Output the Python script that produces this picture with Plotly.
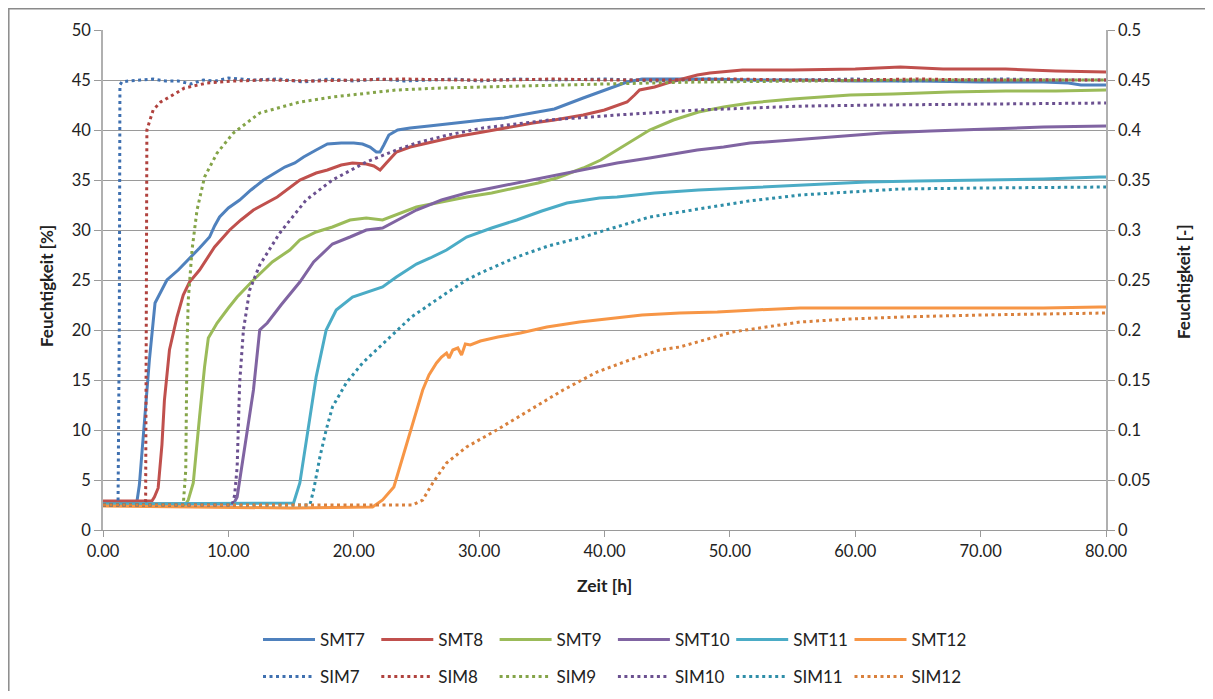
import plotly.graph_objects as go

# ---------------- data ----------------
SMT7_t = [0, 2.7, 2.9, 3.3, 3.7, 4.15, 5.1, 6.0, 6.8, 7.7, 8.5, 8.9, 9.3, 10.0, 10.9, 11.8, 12.8, 13.7, 14.5,
          15.3, 16.0, 17.0, 17.9, 19.0, 20.0, 20.7, 21.3, 21.8, 22.1, 22.4, 22.8, 23.5, 24.5, 26.0, 28.0, 30.3,
          32.0, 34.3, 36.0, 38.3, 40.0, 41.8, 43.0, 45.0, 48.0, 52.0, 56.0, 60.0, 65.0, 70.0, 75.0, 77.0, 78.0, 80.0]
SMT7_v = [2.8, 2.8, 4.5, 10.5, 17.0, 22.7, 25.0, 26.0, 27.0, 28.2, 29.3, 30.4, 31.3, 32.2, 33.0, 34.0, 35.0, 35.7,
          36.3, 36.7, 37.3, 38.0, 38.6, 38.7, 38.7, 38.6, 38.3, 37.8, 37.8, 38.5, 39.5, 40.0, 40.2, 40.4, 40.7, 41.0,
          41.2, 41.7, 42.1, 43.2, 44.0, 44.8, 45.1, 45.1, 45.1, 45.0, 45.0, 44.9, 44.9, 44.8, 44.8, 44.7, 44.5, 44.5]

SMT8_t = [0, 3.9, 4.1, 4.4, 4.7, 4.9, 5.3, 5.9, 6.4, 6.9, 7.7, 8.9, 10.1, 11.0, 12.0, 13.9, 15.7, 17.0, 17.9,
          19.0, 19.9, 21.0, 21.6, 22.1, 22.6, 23.4, 24.5, 26.3, 28.0, 30.3, 32.0, 34.3, 36.0, 38.3, 40.0, 41.8,
          42.4, 42.8, 44.0, 45.0, 47.4, 48.4, 51.0, 55.0, 60.0, 63.6, 67.0, 72.0, 76.0, 80.0]
SMT8_v = [2.9, 2.9, 3.3, 4.2, 8.5, 13.0, 18.0, 21.3, 23.5, 24.8, 26.0, 28.3, 30.0, 31.0, 32.0, 33.3, 35.0, 35.7,
          36.0, 36.5, 36.7, 36.6, 36.4, 36.0, 36.7, 37.8, 38.3, 38.8, 39.3, 39.8, 40.2, 40.7, 41.0, 41.5, 42.0,
          42.8, 43.5, 44.0, 44.3, 44.7, 45.5, 45.7, 46.0, 46.0, 46.1, 46.3, 46.1, 46.1, 45.9, 45.8]

SMT9_t = [0, 6.6, 6.8, 7.2, 7.7, 8.1, 8.4, 9.1, 10.0, 10.7, 12.0, 13.5, 14.9, 15.7, 17.0, 18.3, 19.7, 21.0,
          22.3, 23.5, 25.0, 27.0, 29.0, 31.0, 33.0, 34.7, 36.2, 38.3, 39.7, 41.0, 42.3, 43.6, 45.5, 47.5, 49.5,
          51.6, 55.0, 59.6, 63.0, 67.5, 72.0, 76.0, 80.0]
SMT9_v = [2.6, 2.6, 3.0, 4.7, 11.3, 16.3, 19.2, 20.7, 22.2, 23.3, 25.0, 26.8, 28.0, 29.0, 29.8, 30.3, 31.0,
          31.2, 31.0, 31.6, 32.3, 32.8, 33.3, 33.7, 34.2, 34.7, 35.2, 36.2, 37.0, 38.0, 39.0, 40.0, 41.0, 41.8,
          42.3, 42.7, 43.1, 43.5, 43.6, 43.8, 43.9, 43.9, 44.0]

SMT10_t = [0, 10.4, 10.7, 11.1, 11.5, 12.0, 12.5, 13.1, 14.2, 15.7, 16.8, 18.3, 19.7, 21.0, 22.3, 23.5, 25.0,
           27.0, 29.0, 31.0, 33.0, 35.0, 37.0, 39.0, 41.0, 43.6, 45.5, 47.4, 49.5, 51.6, 55.0, 58.0, 62.2, 66.0,
           70.2, 75.0, 80.0]
SMT10_v = [2.6, 2.6, 3.3, 6.5, 9.7, 14.0, 20.0, 20.7, 22.5, 24.8, 26.8, 28.6, 29.3, 30.0, 30.2, 31.0, 32.0,
           33.0, 33.7, 34.2, 34.7, 35.2, 35.7, 36.2, 36.7, 37.2, 37.6, 38.0, 38.3, 38.7, 39.0, 39.3, 39.7, 39.9,
           40.1, 40.3, 40.4]

SMT11_t = [0, 15.2, 15.7, 16.2, 17.0, 17.8, 18.6, 19.9, 21.5, 22.3, 23.4, 25.0, 26.1, 27.4, 29.0, 31.0, 33.0,
           35.0, 37.0, 39.6, 41.0, 44.0, 47.5, 51.0, 55.0, 60.9, 65.0, 70.0, 75.0, 79.5, 80.0]
SMT11_v = [2.6, 2.7, 4.7, 8.7, 15.3, 20.0, 22.0, 23.3, 24.0, 24.3, 25.3, 26.6, 27.2, 28.0, 29.3, 30.2, 31.0,
           31.9, 32.7, 33.2, 33.3, 33.7, 34.0, 34.2, 34.5, 34.8, 34.9, 35.0, 35.1, 35.3, 35.3]

SMT12_t = [0, 8, 15, 21.5, 22.3, 23.2, 23.9, 24.7, 25.5, 26.0, 26.6, 27.0, 27.4, 27.6, 27.9, 28.3, 28.6, 28.9,
           29.3, 30.1, 31.5, 33.3, 35.4, 38.0, 40.7, 43.0, 46.0, 49.0, 52.0, 55.6, 60.0, 65.0, 70.0, 75.0, 79.5, 80.0]
SMT12_v = [2.4, 2.3, 2.2, 2.3, 3.0, 4.3, 7.3, 10.7, 14.0, 15.5, 16.7, 17.3, 17.7, 17.2, 18.0, 18.2, 17.5, 18.6,
           18.5, 18.9, 19.3, 19.7, 20.3, 20.8, 21.2, 21.5, 21.7, 21.8, 22.0, 22.2, 22.2, 22.2, 22.2, 22.2, 22.3, 22.3]

SIM7_t = [0, 1.2, 1.3, 1.35, 1.5, 2.0, 3.0, 4.0, 5.0, 6.0, 7.0, 8.0, 9.0, 10, 12, 14, 16, 18, 20, 22, 24, 26,
          28, 30, 33, 36, 40, 44, 48, 52, 56, 60, 64, 68, 72, 76, 80]
SIM7_v = [2.5, 2.5, 20, 44.5, 44.8, 44.9, 45.0, 45.1, 44.9, 44.9, 44.6, 45.0, 44.9, 45.2, 45.0, 45.1, 44.8,
          45.1, 44.9, 45.1, 44.9, 45.0, 45.1, 44.9, 45.1, 45.0, 45.1, 44.9, 45.1, 45.0, 45.0, 45.1, 44.9, 45.0,
          45.1, 45.0, 45.0]

SIM8_t = [0, 3.4, 3.45, 3.5, 4.0, 4.6, 5.3, 6.5, 8.3, 10.5, 13, 17, 20, 24, 28, 32, 36, 40, 45, 50, 55, 60,
          65, 70, 75, 80]
SIM8_v = [2.5, 2.5, 20, 40.0, 42.0, 42.8, 43.3, 44.2, 44.7, 44.9, 45.0, 44.9, 45.0, 45.1, 45.0, 45.0, 45.1,
          45.0, 45.0, 45.1, 45.0, 45.0, 45.1, 45.0, 45.0, 45.0]

SIM9_t = [0, 6.4, 6.6, 6.7, 6.8, 7.1, 7.5, 8.1, 9.1, 10.4, 12.5, 15.7, 18.3, 21, 23.4, 27, 33, 40, 47.4, 55,
          65, 80]
SIM9_v = [2.5, 2.5, 6, 18.3, 23, 28, 32, 35.3, 37.7, 39.7, 41.7, 42.8, 43.3, 43.7, 44.0, 44.2, 44.4, 44.6,
          44.8, 44.9, 45.0, 45.0]

SIM10_t = [0, 10.3, 10.5, 10.7, 10.9, 11.2, 11.7, 12.5, 14.1, 16.2, 18.3, 21.0, 23.4, 25.0, 27.5, 30.3, 35.6,
           41, 47.4, 51.6, 56, 62.2, 70, 80]
SIM10_v = [2.5, 2.5, 3.5, 6.3, 14.7, 20.0, 24.0, 26.5, 29.7, 33.0, 35.0, 36.8, 38.0, 38.7, 39.5, 40.2, 41.0,
           41.5, 42.0, 42.2, 42.4, 42.5, 42.6, 42.7]

SIM11_t = [0, 16.5, 16.8, 17.3, 17.8, 18.3, 19.4, 20.7, 22.9, 24.6, 27.4, 29.0, 30.1, 33.0, 35.5, 38.3, 39.6,
           43.6, 47.5, 51.5, 55.6, 59.5, 63.6, 70, 79.5, 80]
SIM11_v = [2.5, 2.5, 4.0, 7.3, 10.0, 12.3, 14.7, 16.7, 19.3, 21.3, 23.7, 25.0, 25.7, 27.3, 28.4, 29.3, 29.8,
           31.3, 32.1, 32.9, 33.5, 33.8, 34.1, 34.2, 34.3, 34.3]

SIM12_t = [0, 24.7, 25.5, 26.3, 27.4, 29.0, 31.4, 34.0, 36.7, 39.4, 42.0, 44.4, 46.0, 50.2, 55.6, 59.5, 63.6,
           70, 79.5, 80]
SIM12_v = [2.5, 2.5, 3.0, 4.7, 6.7, 8.3, 10.0, 12.0, 14.0, 15.8, 17.0, 18.0, 18.3, 19.8, 20.8, 21.1, 21.3,
           21.5, 21.7, 21.7]

measured = [("SMT7", SMT7_t, SMT7_v, "#4F81BD"),
            ("SMT8", SMT8_t, SMT8_v, "#C0504D"),
            ("SMT9", SMT9_t, SMT9_v, "#9BBB59"),
            ("SMT10", SMT10_t, SMT10_v, "#8064A2"),
            ("SMT11", SMT11_t, SMT11_v, "#4BACC6"),
            ("SMT12", SMT12_t, SMT12_v, "#F79646")]
simulated = [("SIM7", SIM7_t, SIM7_v, "#3F70B0"),
             ("SIM8", SIM8_t, SIM8_v, "#B0423E"),
             ("SIM9", SIM9_t, SIM9_v, "#84A448"),
             ("SIM10", SIM10_t, SIM10_v, "#6B5090"),
             ("SIM11", SIM11_t, SIM11_v, "#2E8EA8"),
             ("SIM12", SIM12_t, SIM12_v, "#D9803C")]

x_ticks = [0, 10, 20, 30, 40, 50, 60, 70, 80]

FONT = "Lato, 'Open Sans', sans-serif"
GRID = "#9A9A9A"
TXT = "#222222"

fig = go.Figure()
for name, t, v, c in measured:
    fig.add_trace(go.Scatter(x=t, y=v, name=name, mode="lines",
                             line=dict(color=c, width=3), legend="legend"))
for name, t, v, c in simulated:
    fig.add_trace(go.Scatter(x=t, y=v, name=name, mode="lines",
                             line=dict(color=c, width=3, dash="3px,3.5px"), legend="legend2"))
# secondary axis anchor trace (no visible marks)
fig.add_trace(go.Scatter(x=[None], y=[None], yaxis="y2", showlegend=False, hoverinfo="skip"))

# page has the default 8px body margin; keep the whole page inside the 1213x699 window
OFF = 8
W, H = 1213 - 2 * OFF, 699 - 2 * OFF
PL, PR, PT, PB = 103, 1106, 30, 530          # plot area in page pixels
L, T = PL - OFF, PT - OFF
R, B = W - (PR - OFF), H - (PB - OFF)
pw, ph = PR - PL, PB - PT


def px_x(px):
    return (px - PL) / pw


def px_y(py):
    return (PB - py) / ph


LEG_FONT = dict(size=17)
fig.update_layout(
    width=W, height=H,
    margin=dict(l=L, r=R, t=T, b=B, autoexpand=False),
    paper_bgcolor="white", plot_bgcolor="white",
    font=dict(family=FONT, size=16, color=TXT),
    xaxis=dict(range=[0, 80], tickvals=x_ticks, tickformat=".2f", showgrid=False,
               showline=True, linecolor=GRID, linewidth=1, ticks="outside", ticklen=6,
               tickcolor=GRID, zeroline=False, tickfont=dict(size=16.5), automargin=False),
    yaxis=dict(range=[0, 50], dtick=5, showgrid=True, gridcolor=GRID, gridwidth=1,
               showline=True, linecolor="#B0B0B0", linewidth=1.5, ticks="outside", ticklen=7,
               tickcolor=GRID, zeroline=False, tickfont=dict(size=16.5), automargin=False),
    yaxis2=dict(range=[0, 0.5], dtick=0.05, overlaying="y", side="right", showgrid=False,
                showline=True, linecolor="#B0B0B0", linewidth=1.5, ticks="outside", ticklen=7,
                tickcolor=GRID, zeroline=False, tickfont=dict(size=16.5), automargin=False),
    legend=dict(orientation="h", x=px_x(258), xanchor="left", y=px_y(640), yanchor="middle",
                itemwidth=52, entrywidth=51.3, entrywidthmode="pixels", font=LEG_FONT,
                bgcolor="rgba(0,0,0,0)", tracegroupgap=0, borderwidth=0),
    legend2=dict(orientation="h", x=px_x(258), xanchor="left", y=px_y(677), yanchor="middle",
                 itemwidth=52, entrywidth=51.3, entrywidthmode="pixels", font=LEG_FONT,
                 bgcolor="rgba(0,0,0,0)", tracegroupgap=0, borderwidth=0),
    showlegend=True,
)

fig.add_annotation(text="<b>Feuchtigkeit [%]</b>", xref="paper", yref="paper",
                   x=px_x(46), y=px_y(286), textangle=-90, showarrow=False,
                   font=dict(size=17, color=TXT), xanchor="center", yanchor="middle")
fig.add_annotation(text="<b>Feuchtigkeit [-]</b>", xref="paper", yref="paper",
                   x=px_x(1183), y=px_y(282), textangle=-90, showarrow=False,
                   font=dict(size=17, color=TXT), xanchor="center", yanchor="middle")
fig.add_annotation(text="<b>Zeit [h]</b>", xref="paper", yref="paper",
                   x=px_x(604), y=px_y(585), showarrow=False,
                   font=dict(size=17.5, color=TXT), xanchor="center", yanchor="middle")

fig.add_shape(type="rect", xref="paper", yref="paper",
              x0=px_x(8.8), x1=px_x(1230), y0=px_y(720), y1=px_y(8.8),
              line=dict(color="#8A8A8A", width=1.5), layer="below")

fig.write_html("out.html")
